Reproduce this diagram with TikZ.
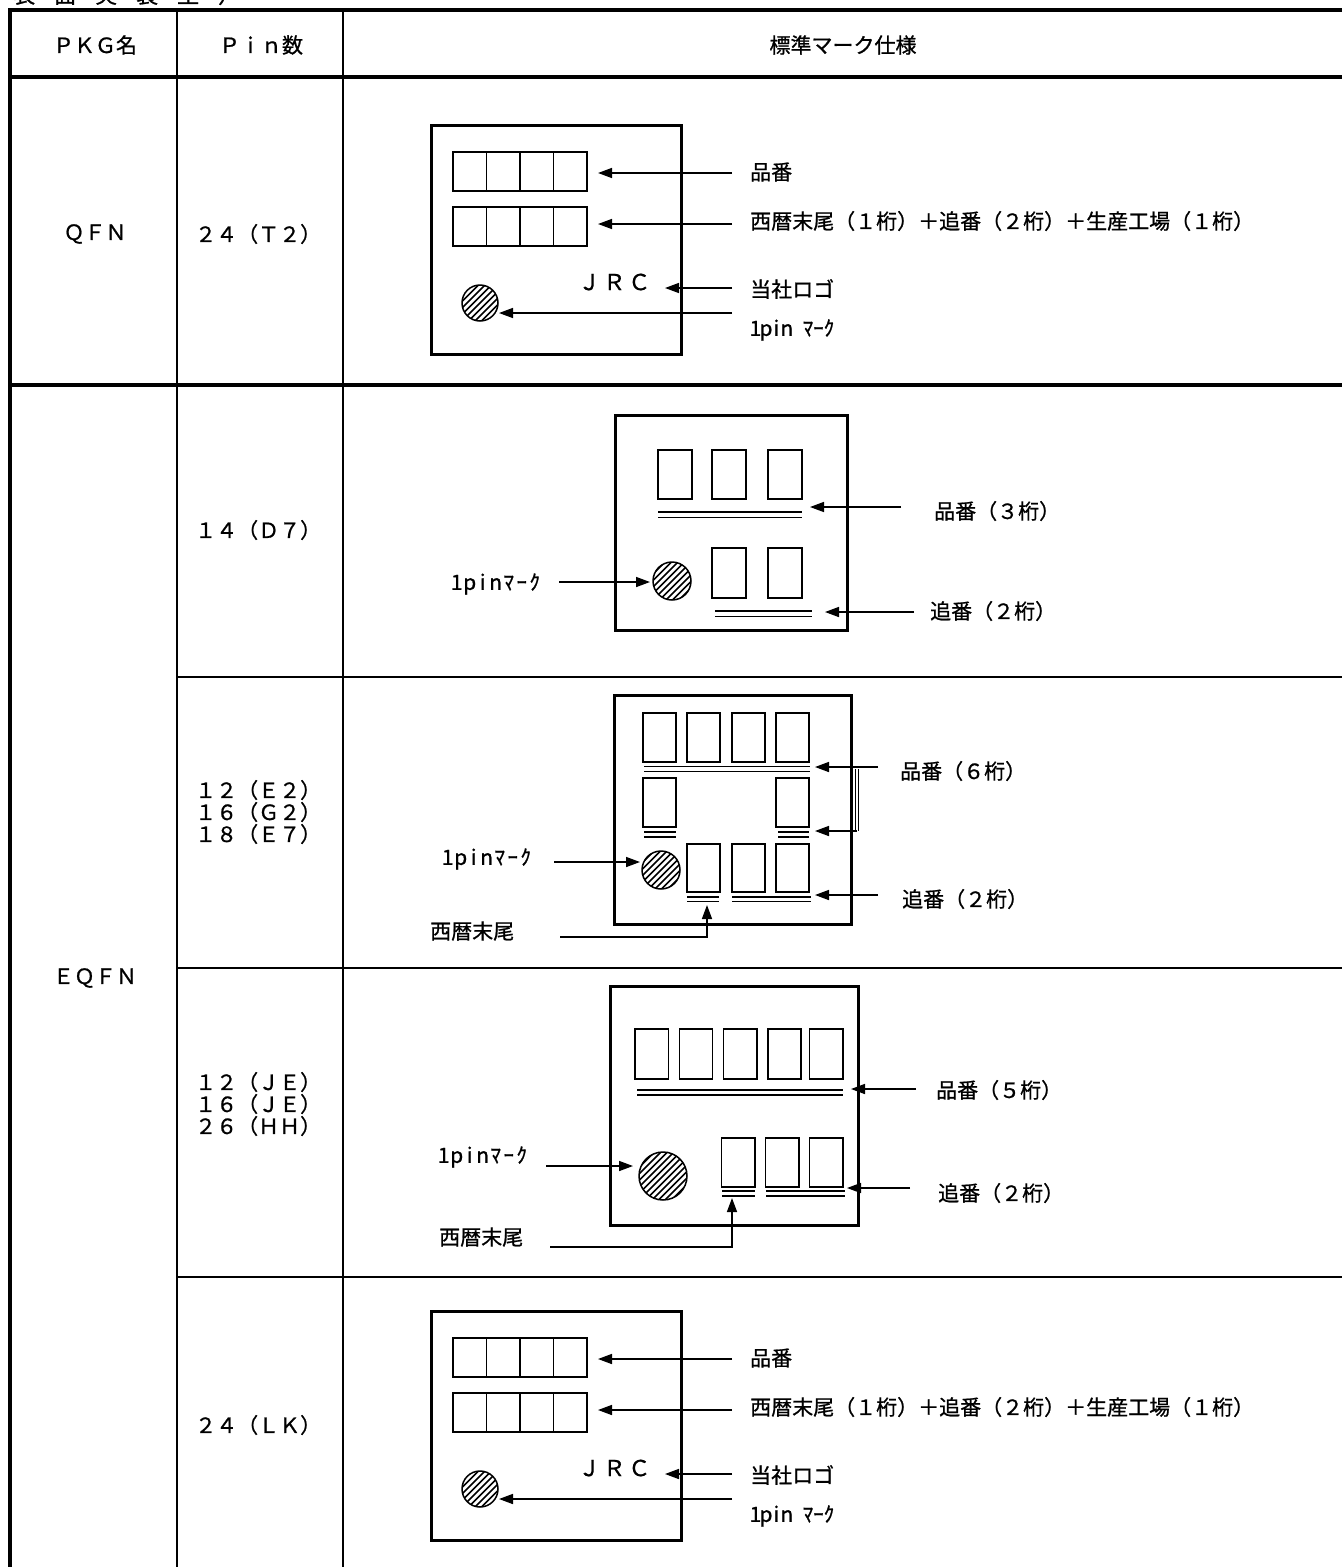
\documentclass[tikz,border=0pt]{standalone}
\usepackage{fontspec}
\setmainfont{Noto Sans CJK JP}[FakeBold=0.9]
\usetikzlibrary{arrows.meta}
\newcommand\hb[1]{\makebox[10.5pt][c]{#1}}
\newcommand\hc[1]{\makebox[13pt][c]{#1}}
\newcommand\wb[1]{\makebox[41pt][l]{#1}}
\newcommand\jb[1]{\makebox[25pt][c]{#1}}
% hatched 1pin mark: name, x, y, r
\newcommand\pinmark[4]{%
  \begin{scope}
    \clip (#2,#3) circle (#4);
    \foreach \t in {-39,-32.5,...,39}
      \draw[line width=1.6pt] ({#2+\t-#4},{#3+#4}) -- ({#2+\t+#4},{#3-#4});
  \end{scope}
  \node[circle,draw,line width=1.5pt,minimum size={(2*#4)*1pt},inner sep=0pt] (#1) at (#2,#3) {};
}
% QFN-type marking drawing: prefix, yshift
\newcommand\qfnmark[2]{%
\begin{scope}[yshift=#2]
  \draw[chipbox] (431,125) rectangle (681,354);
  \foreach \yy in {152,207}{
    \draw[cellbox] (453,\yy) rectangle (587,{\yy+39});
    \foreach \xx in {486.5,520,553.5} \draw[cellbox] (\xx,\yy) -- (\xx,{\yy+39});
  }
  \node[txt,font=\fontsize{22}{24}\selectfont,anchor=east] (#1jrc) at (652,282) {\jb{Ｊ}\jb{Ｒ}\jb{Ｃ}};
  \pinmark{#1pin}{480}{303}{18}
  \node[lbl] (#1l1) at (750,172) {品番};
  \node[lbl] (#1l2) at (750,221) {西暦末尾（１桁）＋追番（２桁）＋生産工場（１桁）};
  \node[lbl] (#1l3) at (750,289) {当社ロゴ};
  \node[lbl] (#1l4) at (750,330) {\hb{1}\hb{p}\hb{i}\hb{n}\hb{ }\hb{ﾏ}\hb{ｰ}\hb{ｸ}};
  \coordinate (#1s1) at (732,173); \coordinate (#1t1) at (598,173);
  \coordinate (#1s2) at (732,224); \coordinate (#1t2) at (598,224);
  \coordinate (#1s3) at (732,288); \coordinate (#1t3) at (665,288);
  \coordinate (#1s4) at (732,313); \coordinate (#1t4) at (499,313);
  \draw[arr] (#1s1) -- (#1t1);
  \draw[arr] (#1s2) -- (#1t2);
  \draw[arr] (#1s3) -- (#1t3);
  \draw[arr] (#1s4) -- (#1t4);
\end{scope}}
\begin{document}
\begin{tikzpicture}[x=1pt,y=-1pt,
  thickrule/.style={line width=4.5pt},
  thinrule/.style={line width=2pt},
  chipbox/.style={line width=3pt},
  cellbox/.style={line width=1.5pt},
  dline/.style={line width=1.8pt},
  arr/.style={line width=1.5pt,-{Triangle[length=14pt,width=10pt]}},
  txt/.style={inner sep=0pt,font=\fontsize{21}{22}\selectfont},
  lbl/.style={txt,anchor=west},
  pinlbl/.style={txt,anchor=west,align=left},
]
\useasboundingbox (0,0) rectangle (1342,1567);
\fill[white] (0,0) rectangle (1342,1567);

% clipped title at the very top
\node[inner sep=0pt,anchor=base west,font=\fontsize{22}{22}\selectfont] (title) at (13,3)
  {\wb{表}\wb{面}\wb{実}\wb{装}\wb{型}\wb{）}};

% ---------------- table grid ----------------
\draw[thinrule] (177,10) -- (177,1567);
\draw[thinrule] (343,10) -- (343,1567);
\draw[thinrule] (177,677) -- (1342,677);
\draw[thinrule] (177,968) -- (1342,968);
\draw[thinrule] (177,1277) -- (1342,1277);
\draw[thickrule] (8,10) -- (1342,10);
\draw[thickrule] (8,77) -- (1342,77);
\draw[thickrule] (8,385) -- (1342,385);
\draw[thickrule] (10,8) -- (10,1567);

% ---------------- header ----------------
\node[txt] (h1) at (95,45) {ＰＫＧ名};
\node[txt] (h2) at (261,45) {Ｐｉｎ数};
\node[txt] (h3) at (843,45) {標準マーク仕様};

% ---------------- package / pin column ----------------
\node[txt] (pk1) at (95,234) {ＱＦＮ};
\node[txt] (pk2) at (95,978) {ＥＱＦＮ};
\node[pinlbl] (pn1) at (195,234) {２４（Ｔ２）};
\node[pinlbl] (pn2) at (195,530) {１４（Ｄ７）};
\node[pinlbl] (pn3) at (195,812) {１２（Ｅ２）\\１６（Ｇ２）\\１８（Ｅ７）};
\node[pinlbl] (pn4) at (195,1104) {１２（ＪＥ）\\１６（ＪＥ）\\２６（ＨＨ）};
\node[pinlbl] (pn5) at (195,1425) {２４（ＬＫ）};

% ---------------- QFN 24 (T2) and EQFN 24 (LK) ----------------
\qfnmark{qa}{0pt}
\qfnmark{qb}{-1186pt}

% ---------------- EQFN 14 (D7) ----------------
\draw[chipbox] (615,415) rectangle (847,630);
\foreach \xa in {658,712,768} \draw[cellbox] (\xa,450) rectangle ({\xa+34},499);
\foreach \xa in {712,768} \draw[cellbox] (\xa,548) rectangle ({\xa+34},598);
\draw[dline] (658,512) -- (802,512);
\draw[dline] (658,517.5) -- (802,517.5);
\draw[dline] (715,611) -- (812,611);
\draw[dline] (715,616.5) -- (812,616.5);
\pinmark{d7pin}{672}{581}{19}
\node[lbl] (d7l1) at (934,511) {品番（３桁）};
\node[lbl] (d7l2) at (930,611) {追番（２桁）};
\node[lbl] (d7l3) at (450,584) {\hc{1}\hc{p}\hc{i}\hc{n}\hc{ﾏ}\hc{ｰ}\hc{ｸ}};
\coordinate (d7s1) at (901,507); \coordinate (d7t1) at (810,507);
\coordinate (d7s2) at (914,612); \coordinate (d7t2) at (825,612);
\coordinate (d7s3) at (559,582); \coordinate (d7t3) at (650,582);
\draw[arr] (d7s1) -- (d7t1);
\draw[arr] (d7s2) -- (d7t2);
\draw[arr] (d7s3) -- (d7t3);

% ---------------- EQFN 12/16/18 (E2,G2,E7) ----------------
\draw[chipbox] (614,695) rectangle (851,924);
\foreach \xa in {643,687,732,776} \draw[cellbox] (\xa,713) rectangle ({\xa+33},762);
\foreach \xa in {643,776} \draw[cellbox] (\xa,778) rectangle ({\xa+33},827);
\foreach \xa in {687,732,776} \draw[cellbox] (\xa,844) rectangle ({\xa+33},892);
\draw[dline] (644,766.5) -- (810,766.5);
\draw[dline] (644,771.5) -- (810,771.5);
\draw[dline] (644,832) -- (676,832);
\draw[dline] (644,837) -- (676,837);
\draw[dline] (778,832) -- (809,832);
\draw[dline] (778,837) -- (809,837);
\draw[dline] (687,897) -- (719,897);
\draw[dline] (687,901.5) -- (719,901.5);
\draw[dline] (732,897) -- (811,897);
\draw[dline] (732,901.5) -- (811,901.5);
\pinmark{e2pin}{661}{870}{19}
\draw[line width=1.2pt] (855.5,769) -- (855.5,831);
\draw[line width=1.2pt] (858.5,769) -- (858.5,831);
\node[lbl] (e2l1) at (900,771) {品番（６桁）};
\node[lbl] (e2l2) at (902,899) {追番（２桁）};
\node[lbl] (e2l3) at (441,859) {\hc{1}\hc{p}\hc{i}\hc{n}\hc{ﾏ}\hc{ｰ}\hc{ｸ}};
\node[lbl] (e2l4) at (430,931) {西暦末尾};
\coordinate (e2s1) at (878,767); \coordinate (e2t1) at (815,767);
\coordinate (e2s2) at (857,831); \coordinate (e2t2) at (815,831);
\coordinate (e2s3) at (878,895); \coordinate (e2t3) at (815,895);
\coordinate (e2s4) at (554,862); \coordinate (e2t4) at (640,862);
\coordinate (e2s5) at (560,937); \coordinate (e2t5) at (707,905);
\draw[arr] (e2s1) -- (e2t1);
\draw[arr] (e2s2) -- (e2t2);
\draw[arr] (e2s3) -- (e2t3);
\draw[arr] (e2s4) -- (e2t4);
\draw[arr] (e2s5) -| (e2t5);

% ---------------- EQFN 12/16/26 (JE,JE,HH) ----------------
\draw[chipbox] (610,986) rectangle (858,1225);
\foreach \xa in {635,679.3,723.6,767.8,809.4} \draw[cellbox] (\xa,1029) rectangle ({\xa+33.4},1079);
\foreach \xa in {721.4,765.6,809.4} \draw[cellbox] (\xa,1138) rectangle ({\xa+33.4},1187);
\draw[dline] (637,1090) -- (843,1090);
\draw[dline] (637,1095) -- (843,1095);
\draw[dline] (722,1191) -- (755,1191);
\draw[dline] (722,1196) -- (755,1196);
\draw[dline] (766,1191) -- (845,1191);
\draw[dline] (766,1196) -- (845,1196);
\pinmark{jepin}{663}{1176}{24}
\node[lbl] (jel1) at (936,1090) {品番（５桁）};
\node[lbl] (jel2) at (938,1193) {追番（２桁）};
\node[lbl] (jel3) at (437,1157) {\hc{1}\hc{p}\hc{i}\hc{n}\hc{ﾏ}\hc{ｰ}\hc{ｸ}};
\node[lbl] (jel4) at (439,1237) {西暦末尾};
\coordinate (jes1) at (916,1089); \coordinate (jet1) at (851,1089);
\coordinate (jes2) at (910,1188); \coordinate (jet2) at (847,1188);
\coordinate (jes3) at (546,1166); \coordinate (jet3) at (633,1166);
\coordinate (jes4) at (550,1247); \coordinate (jet4) at (732,1198);
\draw[arr] (jes1) -- (jet1);
\draw[arr] (jes2) -- (jet2);
\draw[arr] (jes3) -- (jet3);
\draw[arr] (jes4) -| (jet4);
\end{tikzpicture}
\end{document}
